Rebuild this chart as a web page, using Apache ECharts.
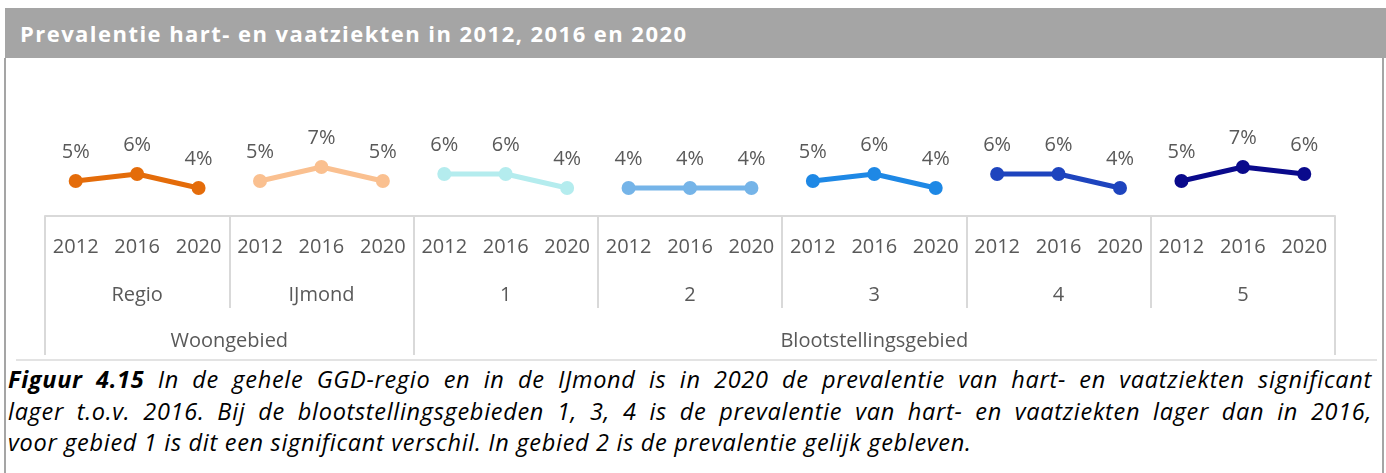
<!DOCTYPE html>
<html>
<head>
<meta charset="utf-8">
<script src="https://cdn.jsdelivr.net/npm/echarts@6/dist/echarts.min.js"></script>
<style>
    body{margin:0;background:#fff;width:1386px;height:473px;overflow:hidden;position:relative;font-family:"Open Sans",sans-serif;}
    .titel{position:absolute;left:5px;top:8px;width:1381px;height:50px;background:#a5a5a5;color:#fff;
        font-weight:bold;font-size:22px;letter-spacing:1.45px;line-height:50px;padding-left:15px;box-sizing:border-box;}
    .rand-l{position:absolute;left:4px;top:58px;width:2px;height:415px;background:#a5a5a5;}
    .rand-r{position:absolute;left:1382px;top:58px;width:2px;height:415px;background:#a5a5a5;}
    .lijn{position:absolute;left:16px;top:359px;width:1361px;height:2px;background:#e3e3e3;}
    #grafiek{position:absolute;left:0;top:60px;width:1386px;height:298px;}
    .bijschrift{position:absolute;left:8px;top:364px;width:1364px;font-style:italic;font-size:23.5px;letter-spacing:0.7px;line-height:31.5px;color:#000;}
    .bijschrift div{white-space:nowrap;}
    .bijschrift .vol{text-align:justify;text-align-last:justify;}
</style>
</head>
<body>
<div class="titel">Prevalentie hart- en vaatziekten in 2012, 2016 en 2020</div>
<div class="rand-l"></div>
<div class="rand-r"></div>
<div id="grafiek"></div>
<div class="lijn"></div>
<div class="bijschrift">
    <div class="vol"><b>Figuur 4.15</b> In de gehele GGD-regio en in de IJmond is in 2020 de prevalentie van hart- en vaatziekten significant</div>
    <div class="vol">lager t.o.v. 2016. Bij de blootstellingsgebieden 1, 3, 4 is de prevalentie van hart- en vaatziekten lager dan in 2016,</div>
    <div>voor gebied 1 is dit een significant verschil. In gebied 2 is de prevalentie gelijk gebleven.</div>
</div>
<script>
// jaren per gebied
const jaren = ['2012', '2016', '2020']
// gebieden (tweede niveau)
const gebieden = ['Regio', 'IJmond', '1', '2', '3', '4', '5']
// bovenste niveau + aantal gebieden eronder
const hoofdgroepen = ['Woongebied', 'Blootstellingsgebied']
const hoofdgroepAantal = [2, 5]
// prevalentie in % (2012, 2016, 2020)
const regio = [5, 6, 4]
const ijmond = [5, 7, 5]
const gebied1 = [6, 6, 4]
const gebied2 = [4, 4, 4]
const gebied3 = [5, 6, 4]
const gebied4 = [6, 6, 4]
const gebied5 = [5, 7, 6]
const waarden = [regio, ijmond, gebied1, gebied2, gebied3, gebied4, gebied5]
const kleuren = ['#E46C0A', '#FAC090', '#B4ECEE', '#75B4E8', '#1E88E5', '#1E44BE', '#0A0A8C']

// categorieen op de x-as: 21 jaren
let jaarAs = []
gebieden.forEach(() => { jaren.forEach(j => jaarAs.push(j)) })

// bovenste niveau: halve gebieden, boundaryGap false
let hoofdAs = []
for (let i = 0; i <= gebieden.length * 2; i++) hoofdAs.push('')
let grensIdx = [0]
let start = 0
hoofdgroepen.forEach((h, k) => {
    hoofdAs[start + hoofdgroepAantal[k]] = h
    start += hoofdgroepAantal[k] * 2
    grensIdx.push(start)
})

let series = []
waarden.forEach((w, g) => {
    let data = jaarAs.map(() => '-')
    w.forEach((v, j) => { data[g * 3 + j] = v })
    series.push({
        name: gebieden[g],
        type: 'line',
        xAxisIndex: 0,
        data: data,
        symbol: 'circle',
        symbolSize: 14,
        lineStyle: { width: 5, color: kleuren[g] },
        itemStyle: { color: kleuren[g] },
        label: {
            show: true,
            position: 'top',
            distance: 12,
            formatter: p => p.value + '%',
            color: '#595959',
            fontSize: 20,
            fontFamily: 'Open Sans'
        },
        animation: false
    })
})

let chart = echarts.init(document.getElementById('grafiek'))
let optie = {
    grid: { left: 45, right: 51, top: 16, height: 140 },
    xAxis: [
        {
            type: 'category',
            data: jaarAs,
            position: 'bottom',
            axisLine: { show: true, lineStyle: { color: '#d9d9d9', width: 2 } },
            axisTick: { show: false },
            axisLabel: { interval: 0, margin: 21, color: '#595959', fontSize: 20, fontFamily: 'Open Sans' }
        },
        {
            type: 'category',
            data: gebieden,
            position: 'bottom',
            axisLine: { show: false },
            axisTick: { show: true, length: 92, interval: 0, lineStyle: { color: '#d9d9d9', width: 2 } },
            axisLabel: { interval: 0, margin: 69, color: '#595959', fontSize: 20, fontFamily: 'Open Sans' }
        },
        {
            type: 'category',
            data: hoofdAs,
            boundaryGap: false,
            position: 'bottom',
            axisLine: { show: false },
            axisTick: { show: true, length: 139, interval: i => grensIdx.includes(i), lineStyle: { color: '#d9d9d9', width: 2 } },
            axisLabel: { interval: 0, margin: 115, color: '#595959', fontSize: 20, fontFamily: 'Open Sans' }
        }
    ],
    yAxis: { type: 'value', min: 0, max: 20, show: false, splitLine: { show: false } },
    series: series
}
chart.setOption(optie)
</script>
</body>
</html>
